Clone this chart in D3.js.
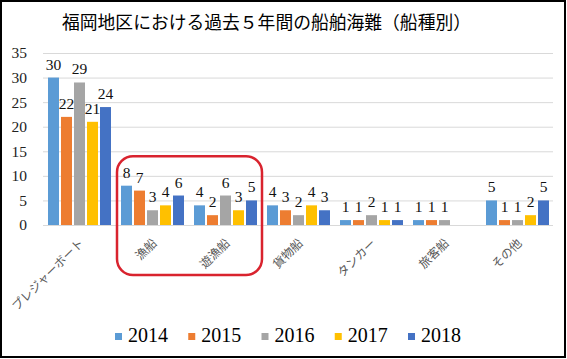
<!DOCTYPE html>
<html><head><meta charset="utf-8">
<script src="https://cdn.jsdelivr.net/npm/d3@7/dist/d3.min.js"></script>
<style>body{margin:0;background:#fff}svg{display:block}</style>
</head><body>
<svg id="c" width="567" height="359"></svg>
<script>
const title = "福岡地区における過去５年間の船舶海難（船種別）";
const categories = ["プレジャーボート","漁船","遊漁船","貨物船","タンカー","旅客船","その他"];
const years = ["2014","2015","2016","2017","2018"];
const colors = ["#5b9bd5","#ed7d31","#a5a5a5","#ffc000","#4472c4"];
const v2014 = [30,8,4,4,1,1,5];
const v2015 = [22,7,2,3,1,1,1];
const v2016 = [29,3,6,2,2,1,1];
const v2017 = [21,4,3,4,1,null,2];
const v2018 = [24,6,5,3,1,null,5];
const series = [v2014,v2015,v2016,v2017,v2018];
const yTicks = [0,5,10,15,20,25,30,35];
const highlight = ["漁船","遊漁船"];

const svg = d3.select("#c");
const x = d3.scaleBand().domain(categories).range([43,554]);
const inner = d3.scaleBand().domain(years).range([5,68]).paddingInner(2/13);
const y = d3.scaleLinear().domain([0,35]).range([225,53]);

// frame
svg.append("rect").attr("x",1).attr("y",1).attr("width",564).attr("height",356)
  .attr("fill","#fff").attr("stroke","#000").attr("stroke-width",2);

// title
svg.append("text").attr("x",62).attr("y",29).attr("font-family","Noto Sans CJK JP")
  .attr("font-size",17.8).attr("fill","#000").text(title);

// gridlines
svg.append("g").selectAll("line").data(yTicks).join("line")
  .attr("x1",43).attr("x2",553).attr("y1",d=>y(d)+0.5).attr("y2",d=>y(d)+0.5)
  .attr("stroke","#d9d9d9").attr("stroke-width",1);

// y labels
svg.append("g").selectAll("text").data(yTicks).join("text")
  .attr("x",27).attr("y",d=>y(d)).attr("dy","0.35em").attr("text-anchor","end")
  .attr("font-family","Liberation Serif").attr("font-size",15.5).attr("fill","#222")
  .text(d=>d);

// bars
const rows = [];
series.forEach((s,si)=>s.forEach((v,ci)=>{ if(v!=null) rows.push({c:categories[ci],yr:years[si],v,col:colors[si]}); }));
svg.append("g").selectAll("rect").data(rows).join("rect")
  .attr("x",d=>x(d.c)+inner(d.yr)).attr("width",inner.bandwidth())
  .attr("y",d=>y(d.v)).attr("height",d=>y(0)-y(d.v)).attr("fill",d=>d.col);

// data labels
svg.append("g").selectAll("text").data(rows).join("text")
  .attr("x",d=>x(d.c)+inner(d.yr)+inner.bandwidth()/2).attr("y",d=>y(d.v)-8)
  .attr("text-anchor","middle").attr("font-family","Liberation Serif").attr("font-size",15.5)
  .attr("fill","#111").text(d=>d.v);

// x labels
svg.append("g").selectAll("text").data(categories).join("text")
  .attr("transform",d=>`translate(${x(d)+x.bandwidth()/2+1},240) rotate(-45)`)
  .attr("text-anchor","end").attr("dominant-baseline","central")
  .attr("font-family","Noto Sans CJK JP").attr("font-size",12).attr("fill","#595959")
  .text(d=>d);

// highlight rounded rect
const hx0 = x(highlight[0])+1, hx1 = x(highlight[1])+x.bandwidth();
svg.append("rect").attr("x",hx0).attr("y",y(14)).attr("width",hx1-hx0).attr("height",y(0)+50-y(14))
  .attr("rx",16).attr("fill","none").attr("stroke","#d9232e").attr("stroke-width",2.5);

// legend
const lg = svg.append("g").selectAll("g").data(years).join("g")
  .attr("transform",(d,i)=>`translate(${115+i*73.25},0)`);
lg.append("rect").attr("x",0).attr("y",333).attr("width",7).attr("height",7).attr("fill",(d,i)=>colors[i]);
lg.append("text").attr("x",13).attr("y",341.5).attr("font-family","Liberation Serif")
  .attr("font-size",20).attr("fill","#000").text(d=>d);
</script>
</body></html>
